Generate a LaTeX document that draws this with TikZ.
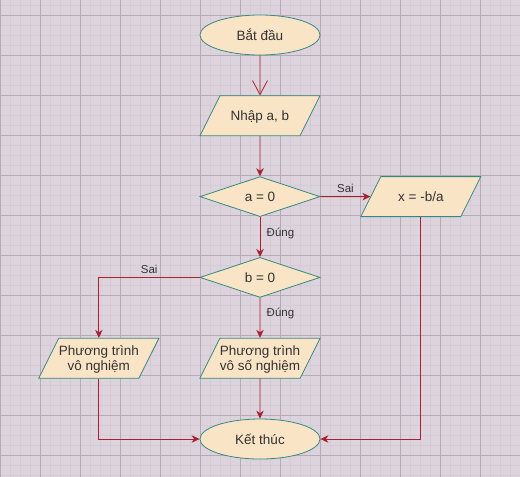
\documentclass[tikz,border=0pt]{standalone}
\usepackage{fontspec}
\setmainfont{Liberation Sans}
\usetikzlibrary{positioning}
\usetikzlibrary{shapes.geometric}
\usetikzlibrary{arrows.meta}
\definecolor{bgcol}{RGB}{220,211,220}
\definecolor{minorcol}{RGB}{213,203,213}
\definecolor{majorcol}{RGB}{182,170,184}
\definecolor{fillcol}{RGB}{250,228,198}
\definecolor{bordercol}{RGB}{52,138,128}
\definecolor{linecol}{RGB}{172,32,46}
\definecolor{textcol}{RGB}{51,51,51}
\tikzset{%
  myedge/.style={-{Stealth[length=8pt,width=7.5pt,inset=2.5pt]}, draw=linecol, line width=0.8pt},
  myopenedge/.style={-{Straight Barb[length=14pt,width=15pt]}, draw=linecol, line width=0.8pt},
  mybox/.style={draw=bordercol, fill=fillcol, line width=0.8pt, text=textcol,
    font=\fontsize{13.5}{15}\selectfont, align=center},
  myterm/.style={mybox, ellipse, minimum width=120pt, minimum height=40pt, inner sep=0pt},
  myio/.style={mybox, trapezium, trapezium left angle=63.43, trapezium right angle=116.57,
    trapezium stretches body, minimum width=120pt, inner xsep=0pt, inner ysep=0pt,
    text height=24.8pt, text depth=15.2pt},
  myiotwo/.style={myio, text height=32.3pt, text depth=7.7pt},
  mydecision/.style={mybox, diamond, aspect=3, minimum width=120pt, minimum height=40pt, inner sep=0pt},
  mylabel/.style={text=textcol, font=\fontsize{11.5}{13}\selectfont}
}

\begin{document}
\begin{tikzpicture}
  \useasboundingbox (0,0) rectangle (520pt,-477pt);
  % background grid
  \begin{scope}
    \clip (0,0) rectangle (520pt,-477pt);
    \fill[bgcol] (0,0) rectangle (520pt,-477pt);
    \begin{scope}[yshift=-5pt]
      \draw[minorcol, line width=0.5pt, step=10pt] (0,-480pt) grid (520pt,10pt);
    \end{scope}
    \begin{scope}[yshift=-15pt]
      \draw[majorcol, line width=0.7pt, step=40pt] (0,-480pt) grid (520pt,20pt);
    \end{scope}
  \end{scope}
  % nodes
  \node[myterm] (start) at (260pt,-35pt) {Bắt đầu};
  \node[myio, below=40pt of start] (input) {Nhập a, b};
  \node[mydecision, below=40pt of input] (ifa) {a = 0};
  \node[myio, right=50pt of ifa] (rootx) {x = -b/a};
  \node[mydecision, below=40pt of ifa] (ifb) {b = 0};
  \node[myiotwo, below=40pt of ifb] (many) {Phương trình\\vô số nghiệm};
  \node[myiotwo, left=60pt of many] (none) {Phương trình\\vô nghiệm};
  \node[myterm, below=40pt of many] (stop) {Kết thúc};
  % edges
  \draw [myopenedge] (start) -- (input);
  \draw [myedge] (input) -- (ifa);
  \draw [myedge] (ifa) -- (rootx) node [mylabel, above, midway] {Sai};
  \draw [myedge] (ifa) -- (ifb) node [mylabel, right, pos=0.4, xshift=3pt] {Đúng};
  \draw [myedge] (ifb) -| (none) node [mylabel, above, pos=0.25] {Sai};
  \draw [myedge] (ifb) -- (many) node [mylabel, right, pos=0.4, xshift=3pt] {Đúng};
  \draw [myedge] (many) -- (stop);
  \draw [myedge] (none) |- (stop);
  \draw [myedge] (rootx) |- (stop);
\end{tikzpicture}
\end{document}
